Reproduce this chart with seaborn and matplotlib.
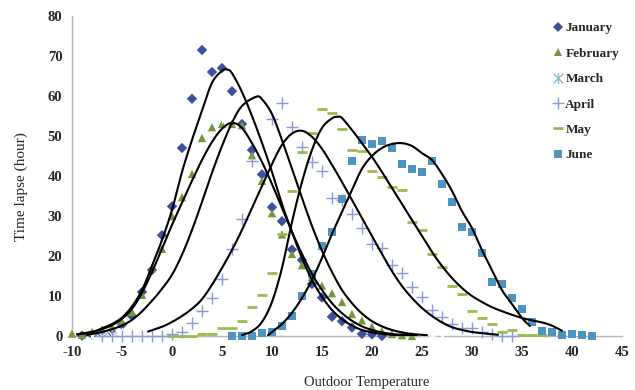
import numpy as np
import pandas as pd
import matplotlib
matplotlib.use("Agg")
import matplotlib.pyplot as plt
from matplotlib.path import Path
from matplotlib.lines import Line2D
import seaborn as sns

# ---------------- data ----------------
jan_x = [-9, -8, -7, -6, -5, -4, -3, -2, -1, 0, 1, 2, 3, 4, 5, 6, 7, 8, 9, 10, 11, 12, 13, 14, 15, 16, 17, 18, 19, 20, 21]
jan_y = [0.1, 0.3, 0.6, 0.9, 2.8, 5.0, 11.0, 16.5, 25.2, 32.4, 47.0, 59.3, 71.5, 66.0, 67.0, 61.2, 53.0, 46.5, 40.4, 32.2, 28.7, 21.6, 19.0, 13.0, 9.6, 4.8, 3.7, 2.1, 0.5, 0.4, 0.0]

feb_x = [-10, -9, -8, -7, -6, -5, -4, -3, -2, -1, 0, 1, 2, 3, 4, 5, 6, 7, 8, 9, 10, 11, 12, 13, 14, 15, 16, 17, 18, 19, 20, 21, 22, 23, 24]
feb_y = [0.6, 0.3, 1.0, 1.7, 2.2, 3.5, 6.0, 10.3, 17.0, 21.8, 30.0, 34.7, 40.5, 49.5, 52.2, 53.0, 53.0, 52.7, 45.2, 38.8, 30.7, 25.4, 20.5, 17.7, 14.8, 12.6, 10.7, 8.5, 5.5, 3.9, 2.3, 1.2, 0.5, 0.2, 0.0]

mar_x = [-8, -7, -6, -5, -4, -3, -2, -1, 0, 1, 2, 3, 4, 5, 6, 7, 8, 9, 10, 11, 12, 13, 14, 15, 16, 17, 18, 19, 20, 21, 22, 23, 24, 25, 26, 27]
mar_y = [0.0, 0.0, 0.3, 0.7, 2.0, 5.0, 5.0, 8.7, 13.3, 19.9, 29.4, 34.3, 45.6, 54.6, 66.3, 61.0, 60.5, 54.2, 45.0, 37.5, 33.0, 29.0, 25.8, 21.9, 18.6, 17.0, 12.3, 10.9, 9.0, 7.4, 4.7, 4.2, 2.8, 1.3, 0.6, 0.0]

apr_x = [-7, -6, -5, -4, -3, -2, -1, 0, 1, 2, 3, 4, 5, 6, 7, 8, 10, 11, 12, 13, 14, 15, 16, 17, 18, 19, 20, 21, 22, 23, 24, 25, 26, 27, 28, 29, 30, 31, 32, 33, 34]
apr_y = [0.0, 0.0, 0.0, 0.0, 0.0, 0.0, 0.0, 0.5, 1.0, 3.2, 6.2, 9.6, 14.2, 21.8, 29.3, 43.8, 54.3, 58.3, 52.3, 47.3, 43.6, 41.3, 34.4, 34.0, 30.4, 27.1, 22.9, 22.0, 17.8, 15.8, 12.3, 9.8, 6.5, 4.8, 3.0, 2.0, 2.1, 0.9, 0.5, 0.0, 0.0]

may_x = [0, 1, 2, 3, 4, 5, 6, 7, 8, 9, 10, 11, 12, 13, 14, 15, 16, 17, 18, 19, 20, 21, 22, 23, 24, 25, 26, 27, 28, 29, 30, 31, 32, 33, 34, 35, 36, 37]
may_y = [0.0, 0.0, 0.1, 0.4, 0.6, 1.9, 2.0, 3.8, 7.3, 10.3, 15.7, 25.5, 36.3, 46.0, 50.7, 56.7, 55.8, 51.7, 46.5, 46.3, 41.3, 39.7, 37.3, 36.5, 28.6, 26.5, 20.5, 17.2, 12.6, 10.4, 6.3, 4.6, 2.9, 1.1, 1.5, 0.3, 0.3, 0.2]

jun_x = [6, 7, 8, 9, 10, 11, 12, 13, 14, 15, 16, 17, 18, 19, 20, 21, 22, 23, 24, 25, 26, 27, 28, 29, 30, 31, 32, 33, 34, 35, 36, 37, 38, 39, 40, 41, 42]
jun_y = [0.0, 0.0, 0.0, 0.8, 1.1, 2.5, 5.0, 10.0, 15.4, 22.4, 26.1, 34.2, 43.7, 49.0, 48.0, 48.8, 47.0, 43.1, 41.8, 41.0, 43.7, 38.0, 33.6, 27.2, 25.9, 20.7, 13.6, 13.0, 9.6, 6.7, 3.6, 1.2, 1.1, 0.25, 0.4, 0.25, 0.0]

# fitted curves
fit_jan_x = [-9.5, -8, -7, -6, -5, -4, -3, -2, -1, 0, 1, 2, 3, 4, 5, 5.5, 6, 7, 8, 9, 10, 11, 12, 13, 14, 15, 16, 17, 18, 19, 20, 21, 22, 23.5]
fit_jan_y = [0.4, 1.0, 1.9, 3.0, 4.6, 7.4, 11.5, 17.5, 24.0, 31.5, 41.0, 49.0, 56.3, 63.3, 66.3, 66.6, 65.7, 61.0, 55.0, 48.3, 41.0, 33.0, 26.0, 19.5, 14.0, 9.8, 6.5, 4.2, 2.6, 1.5, 0.9, 0.5, 0.3, 0.1]

fit_feb_x = [-9.5, -8, -7, -6, -5, -4, -3, -2, -1, 0, 1, 2, 3, 4, 5, 6, 7, 8, 9, 10, 11, 12, 13, 14, 15, 16, 17, 18, 19, 20, 21, 22, 23, 24.5]
fit_feb_y = [0.4, 1.0, 1.7, 2.7, 4.3, 6.8, 10.8, 16.0, 21.8, 27.8, 33.3, 38.8, 44.0, 48.5, 51.8, 53.3, 52.0, 48.2, 43.5, 38.0, 32.0, 26.0, 20.5, 15.5, 11.5, 8.2, 5.7, 3.8, 2.4, 1.5, 0.9, 0.5, 0.3, 0.1]

fit_mar_x = [-8.5, -7, -5, -3.5, -2, -1, 0, 1, 2, 3, 4, 5, 6, 7, 8.4, 9, 10, 11, 12, 13, 14, 15, 16, 17, 18, 19, 20, 21, 22, 23, 24, 25.5]
fit_mar_y = [0.25, 1.0, 2.6, 5.0, 8.8, 11.8, 15.3, 20.3, 26.5, 33.5, 40.8, 47.5, 53.3, 57.5, 59.8, 59.2, 55.5, 49.0, 41.8, 34.5, 27.5, 21.3, 16.0, 11.5, 8.2, 5.6, 3.7, 2.4, 1.5, 0.9, 0.5, 0.2]

fit_apr_x = [-2.4, -1, 0, 1, 2, 3, 4, 5, 6, 7, 8, 9, 10, 11, 12, 13, 14, 15, 16, 17, 18, 19, 20, 21, 22, 23, 24, 25, 26, 27, 28, 29, 30, 31, 32.6]
fit_apr_y = [1.1, 2.3, 3.5, 5.0, 6.8, 9.2, 12.8, 17.0, 21.5, 26.5, 32.0, 37.5, 43.0, 47.8, 50.6, 51.3, 49.8, 46.8, 42.8, 38.5, 34.0, 29.5, 25.0, 20.5, 16.2, 12.5, 9.5, 7.0, 5.0, 3.4, 2.2, 1.5, 1.0, 0.7, 0.3]

fit_may_x = [7, 8, 9, 10, 11, 12, 13, 14, 15, 16, 16.6, 17, 18, 19, 20, 21, 22, 23, 24, 25, 26, 27, 28, 29, 30, 31, 32, 33, 34, 35, 36, 37, 38, 39]
fit_may_y = [0.2, 1.2, 3.5, 8.5, 17.0, 28.5, 38.5, 46.5, 52.0, 54.4, 54.8, 54.5, 51.5, 48.2, 44.8, 41.0, 37.0, 33.0, 29.0, 25.0, 21.0, 17.5, 14.5, 12.0, 10.0, 8.5, 7.2, 6.2, 5.3, 4.5, 3.9, 3.4, 2.6, 1.3]

fit_jun_x = [9.6, 10, 11, 12, 13, 14, 15, 16, 17, 18, 19, 20, 21, 22, 23, 24, 25, 26, 27, 28, 29, 30, 31, 32, 33, 34, 35, 35.8]
fit_jun_y = [0.2, 1.0, 3.0, 5.8, 9.5, 14.0, 19.5, 25.5, 31.0, 36.5, 41.8, 45.0, 47.0, 48.0, 48.2, 47.5, 45.7, 44.0, 40.5, 36.3, 31.2, 27.0, 21.5, 16.5, 11.5, 8.0, 4.5, 2.5]

months = ["January", "February", "March", "April", "May", "June"]
x_ticks = [-10, -5, 0, 5, 10, 15, 20, 25, 30, 35, 40, 45]
y_ticks = [0, 10, 20, 30, 40, 50, 60, 70, 80]

# ---------------- styling ----------------
sns.set_style("white")
plt.rcParams["font.family"] = ["Liberation Serif", "DejaVu Serif"]

colors = {
    "January": "#3d4f9e",
    "February": "#76963a",
    "March": "#8dbad3",
    "April": "#8b98dc",
    "May": "#98bb4e",
    "June": "#4d95c0",
}

# asterisk marker: vertical line + X
ast = Path([(0, -1), (0, 1), (-0.85, -0.85), (0.85, 0.85), (-0.85, 0.85), (0.85, -0.85)],
           [Path.MOVETO, Path.LINETO, Path.MOVETO, Path.LINETO, Path.MOVETO, Path.LINETO])

style = {
    "January": dict(marker="D", s=28, edgecolor="none"),
    "February": dict(marker="^", s=36, edgecolor="none"),
    "March": dict(marker=ast, s=60, linewidths=1.0),
    "April": dict(marker="+", s=70, linewidths=1.0),
    "May": dict(marker="_", s=50, linewidths=2.0),
    "June": dict(marker="s", s=32, edgecolor="none"),
}

series = {
    "January": (jan_x, jan_y),
    "February": (feb_x, feb_y),
    "March": (mar_x, mar_y),
    "April": (apr_x, apr_y),
    "May": (may_x, may_y),
    "June": (jun_x, jun_y),
}
fits = [
    (fit_jan_x, fit_jan_y), (fit_feb_x, fit_feb_y), (fit_mar_x, fit_mar_y),
    (fit_apr_x, fit_apr_y), (fit_may_x, fit_may_y), (fit_jun_x, fit_jun_y),
]


def catmull_rom(xs, ys, n=12):
    """Smooth rendering through the given points (like a spreadsheet's smoothed line)."""
    P = np.column_stack([xs, ys]).astype(float)
    P = np.vstack([P[0], P, P[-1]])
    out = []
    t = np.linspace(0, 1, n, endpoint=False)[:, None]
    for i in range(1, len(P) - 2):
        p0, p1, p2, p3 = P[i - 1], P[i], P[i + 1], P[i + 2]
        seg = 0.5 * ((2 * p1) + (-p0 + p2) * t + (2 * p0 - 5 * p1 + 4 * p2 - p3) * t ** 2
                     + (-p0 + 3 * p1 - 3 * p2 + p3) * t ** 3)
        out.append(seg)
    out.append(P[-2][None, :])
    out = np.vstack(out)
    return out[:, 0], out[:, 1]


fig = plt.figure(figsize=(6.35, 3.9), dpi=100)
ax = fig.add_axes([0.1134, 0.1385, 0.866, 0.8205])

for name in months:
    xs, ys = series[name]
    df = pd.DataFrame({"x": xs, "y": ys})
    st = dict(style[name])
    sns.scatterplot(data=df, x="x", y="y", ax=ax, color=colors[name], legend=False,
                    clip_on=False, zorder=3, **st)

for i, (fx, fy) in enumerate(fits):
    sx, sy = catmull_rom(fx, fy)
    dfc = pd.DataFrame({"x": sx, "y": sy})
    sns.lineplot(data=dfc, x="x", y="y", ax=ax, color="black", lw=1.5,
                 estimator=None, sort=False, legend=False, zorder=4)

ax.set_xlim(-10, 45)
ax.set_ylim(0, 80)
ax.set_xticks(x_ticks)
ax.set_yticks(y_ticks)
ax.set_xticklabels([str(v) for v in x_ticks], fontweight="bold", fontsize=10.5)
ax.set_yticklabels([str(v) for v in y_ticks], fontweight="bold", fontsize=10.5)
ax.tick_params(axis="both", direction="out", length=4, width=0.8, color="#b5b5b5", pad=3)

for sp in ["top", "right"]:
    ax.spines[sp].set_visible(False)
for sp in ["left", "bottom"]:
    ax.spines[sp].set_color("#b5b5b5")
    ax.spines[sp].set_linewidth(1.0)

ax.set_xlabel("Outdoor Temperature", fontsize=10.5)
ax.set_ylabel("Time lapse (hour)", fontsize=11)
ax.xaxis.set_label_coords(0.535, -0.125)
ax.yaxis.set_label_coords(-0.08, 0.466)

handles = []
for name in months:
    st = style[name]
    mk = st["marker"]
    if name == "May":
        h = Line2D([], [], linestyle="none", marker="_", markersize=7, markeredgewidth=2.0,
                   color=colors[name])
    elif name in ("March", "April"):
        h = Line2D([], [], linestyle="none", marker=mk, markersize=8, markeredgewidth=1.0,
                   color=colors[name])
    else:
        ms = {"January": 5, "February": 6, "June": 5.5}[name]
        h = Line2D([], [], linestyle="none", marker=mk, markersize=ms, markeredgewidth=0,
                   color=colors[name])
    handles.append(h)

leg = ax.legend(handles, months, loc="upper left", bbox_to_anchor=(0.855, 1.018),
                frameon=False, handlelength=0.6, handletextpad=0.25, labelspacing=1.0,
                prop={"weight": "bold", "size": 9.5})

fig.savefig("out.png", dpi=100)
